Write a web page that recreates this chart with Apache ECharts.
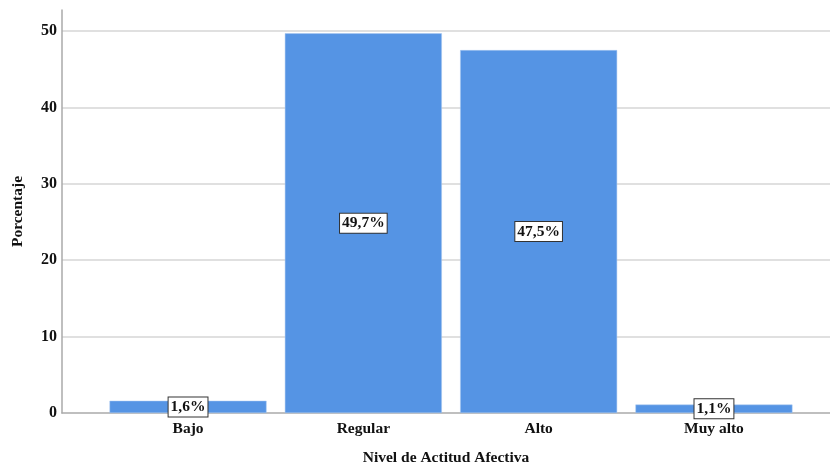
<!DOCTYPE html>
<html>
<head>
<meta charset="utf-8">
<script src="https://cdn.jsdelivr.net/npm/echarts@6/dist/echarts.min.js"></script>
<style>html,body{margin:0;padding:0;background:#fff}#c{width:830px;height:466px}</style>
</head>
<body>
<div id="c"></div>
<script>
const categories = ['Bajo', 'Regular', 'Alto', 'Muy alto'];
const percentages = [1.6, 49.7, 47.5, 1.1];
const yTicks = [0, 10, 20, 30, 40, 50];

const FONT = '"Liberation Serif", "DejaVu Serif", serif';
const chart = echarts.init(document.getElementById('c'));
chart.setOption({
  animation: false,
  backgroundColor: '#fff',
  grid: { left: 62, right: 0, top: 10, bottom: 53, containLabel: false, outerBoundsMode: 'none' },
  xAxis: {
    type: 'value',
    min: -0.719,
    max: 3.662,
    name: 'Nivel de Actitud Afectiva',
    nameLocation: 'middle',
    nameGap: 37,
    nameTextStyle: { fontFamily: FONT, fontWeight: 'bold', fontSize: 15.5, color: '#111' },
    axisLine: { show: true, onZero: false, lineStyle: { color: '#aaa', width: 1.5 } },
    axisTick: { show: false },
    splitLine: { show: false },
    axisLabel: {
      customValues: categories.map((c, i) => i),
      formatter: v => categories[Math.round(v)],
      fontFamily: FONT, fontWeight: 'bold', fontSize: 15.5, color: '#111', margin: 8
    }
  },
  yAxis: {
    type: 'value',
    min: 0,
    max: 52.75,
    interval: 10,
    name: 'Porcentaje',
    nameLocation: 'middle',
    nameGap: 36,
    nameTextStyle: { fontFamily: FONT, fontWeight: 'bold', fontSize: 15.5, color: '#111' },
    axisLine: { show: true, onZero: false, lineStyle: { color: '#aaa', width: 1.5 } },
    axisTick: { show: false },
    splitLine: { show: true, showMaxLine: false, showMinLine: false, lineStyle: { color: '#d6d6d6', width: 1.5 } },
    axisLabel: {
      showMaxLabel: false,
      fontFamily: FONT, fontWeight: 'bold', fontSize: 16, color: '#111', margin: 5
    }
  },
  series: [{
    type: 'bar',
    barWidth: 157,
    data: percentages.map((v, i) => [i, v]),
    itemStyle: { color: '#5594e4', borderColor: '#a9c8f0', borderWidth: 0.5 },
    label: {
      show: true,
      position: 'inside',
      formatter: p => String(p.value[1].toFixed(1)).replace('.', ',') + '%',
      fontFamily: FONT, fontWeight: 'bold', fontSize: 15.5, color: '#111',
      backgroundColor: '#fff', borderColor: '#333', borderWidth: 1,
      padding: [2, 2, 1, 2]
    }
  }]
});
</script>
</body>
</html>
